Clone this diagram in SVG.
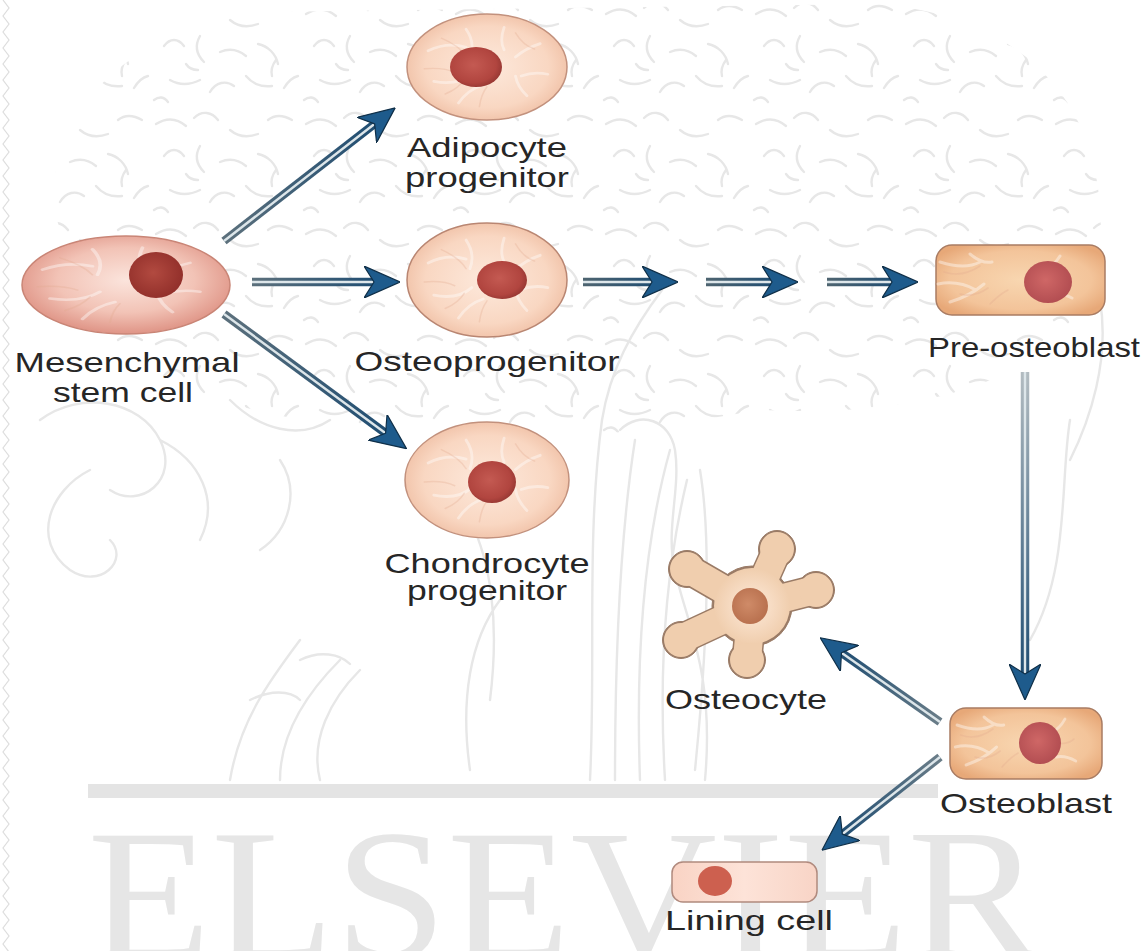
<svg xmlns="http://www.w3.org/2000/svg" xmlns:xlink="http://www.w3.org/1999/xlink" width="1148" height="951" viewBox="0 0 1148 951">
  <style>
    .label { font-family: "Liberation Sans", Arial, sans-serif; font-size: 28px; fill: #262626; text-anchor: middle; }
    .core { stroke: #dde6ea; stroke-width: 2.4; fill: none; marker-end: url(#head); }
    .shaft { stroke-width: 8.5; fill: none; }
    .streak { stroke: #ffffff; stroke-opacity: 0.4; stroke-width: 3; fill: none; stroke-linecap: round; }
    .streak2 { stroke: #e2a98e; stroke-opacity: 0.3; stroke-width: 1.6; fill: none; stroke-linecap: round; }
    .wm { fill: none; stroke: #e7e7e7; stroke-width: 2.4; stroke-linecap: round; }
  </style>
  <defs>
    <!-- arrowhead: barbed, dark blue -->
    <marker id="head" viewBox="0 0 36 32" refX="13" refY="16" markerWidth="36" markerHeight="32" markerUnits="userSpaceOnUse" orient="auto">
      <path d="M0,0 L36,16 L0,32 L10,16 Z" fill="#1e5b8c" stroke="#0f2f48" stroke-width="1.2" stroke-linejoin="round"/>
    </marker>

    <!-- cell fills -->
    <radialGradient id="gStem" cx="50%" cy="45%" r="55%">
      <stop offset="0" stop-color="#fbe4dc"/>
      <stop offset="0.6" stop-color="#f2c3b6"/>
      <stop offset="1" stop-color="#df9486"/>
    </radialGradient>
    <radialGradient id="gRound" cx="50%" cy="50%" r="55%">
      <stop offset="0" stop-color="#fde9dc"/>
      <stop offset="0.7" stop-color="#f9d7c2"/>
      <stop offset="1" stop-color="#efbea3"/>
    </radialGradient>
    <radialGradient id="gRect" cx="50%" cy="50%" r="60%">
      <stop offset="0" stop-color="#f8d6b0"/>
      <stop offset="0.7" stop-color="#f3c49a"/>
      <stop offset="1" stop-color="#e7a878"/>
    </radialGradient>
    <linearGradient id="gLining" x1="0" y1="0" x2="1" y2="0">
      <stop offset="0" stop-color="#f9d3c4"/>
      <stop offset="0.5" stop-color="#fde3d8"/>
      <stop offset="1" stop-color="#f8d4c6"/>
    </linearGradient>
    <radialGradient id="gNuc" cx="45%" cy="45%" r="55%">
      <stop offset="0" stop-color="#c45a52"/>
      <stop offset="0.8" stop-color="#b1453f"/>
      <stop offset="1" stop-color="#9b3a35"/>
    </radialGradient>
    <radialGradient id="gNucStem" cx="45%" cy="45%" r="55%">
      <stop offset="0" stop-color="#b24a40"/>
      <stop offset="1" stop-color="#93302b"/>
    </radialGradient>
    <radialGradient id="gNucRect" cx="45%" cy="45%" r="55%">
      <stop offset="0" stop-color="#cf6766"/>
      <stop offset="1" stop-color="#b34e52"/>
    </radialGradient>
    <radialGradient id="gNucCyte" cx="45%" cy="45%" r="55%">
      <stop offset="0" stop-color="#cf8b68"/>
      <stop offset="1" stop-color="#b9714f"/>
    </radialGradient>
    <radialGradient id="gCyteBody" cx="50%" cy="50%" r="50%">
      <stop offset="0.5" stop-color="#f7dcc4"/>
      <stop offset="1" stop-color="#f0ceae"/>
    </radialGradient>

    <!-- shaft gradients, one per connector -->
    <linearGradient id="s1" gradientUnits="userSpaceOnUse" x1="224" y1="241" x2="377" y2="122"><stop offset="0" stop-color="#5c707c"/><stop offset="1" stop-color="#1f4d72"/></linearGradient>
    <linearGradient id="s2" gradientUnits="userSpaceOnUse" x1="252" y1="282" x2="377" y2="282"><stop offset="0" stop-color="#5c707c"/><stop offset="1" stop-color="#1f4d72"/></linearGradient>
    <linearGradient id="s3" gradientUnits="userSpaceOnUse" x1="224" y1="314" x2="388" y2="435"><stop offset="0" stop-color="#5c707c"/><stop offset="1" stop-color="#1f4d72"/></linearGradient>
    <linearGradient id="s4" gradientUnits="userSpaceOnUse" x1="583" y1="282" x2="655" y2="282"><stop offset="0" stop-color="#4e6470"/><stop offset="1" stop-color="#1f4d72"/></linearGradient>
    <linearGradient id="s5" gradientUnits="userSpaceOnUse" x1="706" y1="282" x2="775" y2="282"><stop offset="0" stop-color="#4e6470"/><stop offset="1" stop-color="#1f4d72"/></linearGradient>
    <linearGradient id="s6" gradientUnits="userSpaceOnUse" x1="827" y1="282" x2="895" y2="282"><stop offset="0" stop-color="#4e6470"/><stop offset="1" stop-color="#1f4d72"/></linearGradient>
    <linearGradient id="s7" gradientUnits="userSpaceOnUse" x1="1025" y1="372" x2="1025" y2="677"><stop offset="0" stop-color="#b3bcc1"/><stop offset="1" stop-color="#1f4d72"/></linearGradient>
    <linearGradient id="s8" gradientUnits="userSpaceOnUse" x1="940" y1="722" x2="839" y2="651"><stop offset="0" stop-color="#6a7d88"/><stop offset="1" stop-color="#1f4d72"/></linearGradient>
    <linearGradient id="s9" gradientUnits="userSpaceOnUse" x1="940" y1="757" x2="840" y2="836"><stop offset="0" stop-color="#6a7d88"/><stop offset="1" stop-color="#1f4d72"/></linearGradient>

    <!-- leafy texture for the background engraving -->
    <pattern id="leafy" width="150" height="110" patternUnits="userSpaceOnUse">
      <path class="wm" d="M6,14 q16,-10 30,2 M44,8 c8,-8 18,-6 24,2 M80,20 q12,10 28,4 M118,10 q10,-8 24,0 M14,46 c6,-8 14,-8 20,0 M50,36 q-8,14 4,26 M70,52 q14,-6 26,4 M108,44 c10,2 18,10 20,20 M20,80 q14,8 30,0 M60,92 c6,-10 16,-12 24,-6 M96,76 q10,12 26,10 M134,88 q6,-10 14,-12 M36,64 q4,6 12,6 M126,60 q-6,8 -4,16 M4,100 q8,-6 14,2"/>
    </pattern>

    <!-- cytoplasm streaks -->
    <g id="streakRound">
      <path class="streak" d="M-62,-18 q20,-10 40,-4 M-56,16 q25,5 40,-8 M-22,-42 q10,15 4,30 M18,-44 q-5,15 0,25 M42,32 q-10,-10 -12,-22 M-30,40 q10,-15 26,-20 M56,-26 q-15,5 -26,15 M64,8 q-15,-3 -28,2"/>
      <path class="streak2" d="M-48,-32 q18,8 26,20 M-66,2 q20,-2 32,4 M-8,44 q2,-14 8,-22 M30,-38 q8,14 20,18 M-44,30 q14,-6 20,-16"/>
    </g>
    <g id="streakRect">
      <path class="streak" d="M-70,-18 q25,8 40,0 M-72,4 q20,-4 38,6 M-60,22 q20,-6 34,-18 M-40,-26 q12,10 22,8 M50,-24 q-6,10 -16,14 M62,18 q-12,-6 -22,-4"/>
      <path class="streak2" d="M-66,-8 q18,6 36,-6 M-50,14 q14,4 28,-6 M-20,24 q10,-10 18,-14 M60,-4 q-8,6 -18,4"/>
    </g>
  </defs>

  <rect width="1148" height="951" fill="#ffffff"/>

  <!-- background engraving: canopy, trunk, vines, ground line and lettering -->
  <g id="engraving">
    <path d="M60,230 C30,140 110,30 260,12 L880,4 C1030,18 1110,110 1100,250 C1090,360 960,420 760,410 L640,430 C470,450 260,430 140,370 C90,340 70,290 60,230 Z" fill="url(#leafy)"/>
    <path class="wm" d="M590,780 c6,-120 -4,-240 12,-360 c8,-50 30,-90 60,-130 M615,780 c0,-130 6,-250 20,-340 M640,780 c-4,-110 2,-230 30,-330 M665,780 c-6,-100 -2,-200 22,-300"/>
    <path class="wm" d="M620,430 c20,-20 50,-10 55,20 c6,40 -10,80 0,120 c10,50 40,100 30,210 M700,470 c10,60 10,150 -5,300 M470,520 c20,40 30,100 20,180 M500,600 c-30,40 -40,100 -30,170"/>
    <path class="wm" d="M40,420 c40,-30 100,-20 120,20 c20,40 -20,70 -50,50 M90,470 c-40,20 -60,70 -20,100 c30,20 60,-10 40,-30 M160,440 c40,20 60,60 40,100 M230,400 c30,30 70,40 100,20 M280,460 c20,30 10,70 -20,90"/>
    <path class="wm" d="M230,780 c10,-60 40,-100 70,-140 M280,780 c0,-50 30,-90 60,-120 M320,780 c-10,-40 10,-80 40,-110 M250,700 c20,-10 40,-10 50,0 M300,660 c20,-10 40,-6 50,4"/>
    <path class="wm" d="M1070,420 c-10,60 0,150 -40,220 M1100,300 c10,60 -10,120 -30,160"/>
    <rect x="88" y="784" width="850" height="14" fill="#e4e4e4"/>
    <text x="565" y="958" font-family="'Liberation Serif', 'Times New Roman', serif" font-size="186" fill="#e6e6e6" text-anchor="middle" textLength="955" lengthAdjust="spacingAndGlyphs">ELSEVIER</text>
    <path d="M3,0 l6,8 l-6,8 l6,8 l-6,8 l6,8 l-6,8 l6,8 l-6,8 l6,8 l-6,8 l6,8 l-6,8 l6,8 l-6,8 l6,8 l-6,8 l6,8 l-6,8 l6,8 l-6,8 l6,8 l-6,8 l6,8 l-6,8 l6,8 l-6,8 l6,8 l-6,8 l6,8 l-6,8 l6,8 l-6,8 l6,8 l-6,8 l6,8 l-6,8 l6,8 l-6,8 l6,8 l-6,8 l6,8 l-6,8 l6,8 l-6,8 l6,8 l-6,8 l6,8 l-6,8 l6,8 l-6,8 l6,8 l-6,8 l6,8 l-6,8 l6,8 l-6,8 l6,8 l-6,8 l6,8 l-6,8 l6,8 l-6,8 l6,8 l-6,8 l6,8 l-6,8 l6,8 l-6,8 l6,8 l-6,8 l6,8 l-6,8 l6,8 l-6,8 l6,8 l-6,8 l6,8 l-6,8 l6,8 l-6,8 l6,8 l-6,8 l6,8 l-6,8 l6,8 l-6,8 l6,8 l-6,8 l6,8 l-6,8 l6,8 l-6,8 l6,8 l-6,8 l6,8 l-6,8 l6,8 l-6,8 l6,8 l-6,8 l6,8 l-6,8 l6,8 l-6,8 l6,8 l-6,8 l6,8 l-6,8 l6,8 l-6,8 l6,8 l-6,8 l6,8 l-6,8 l6,8 l-6,8 l6,8 l-6,8 l6,8" fill="none" stroke="#dddddd" stroke-width="1.2"/>
  </g>

  <!-- connectors -->
  <g id="connectors">
    <g id="msc-adipo"><path class="shaft" stroke="url(#s1)" d="M224,241 L377,122"/><path class="core" d="M224,241 L377,122"/></g>
    <g id="msc-osteoprog"><path class="shaft" stroke="url(#s2)" d="M252,282 L377,282"/><path class="core" d="M252,282 L377,282"/></g>
    <g id="msc-chondro"><path class="shaft" stroke="url(#s3)" d="M224,314 L388,435"/><path class="core" d="M224,314 L388,435"/></g>
    <g id="step-1"><path class="shaft" stroke="url(#s4)" d="M583,282 L655,282"/><path class="core" d="M583,282 L655,282"/></g>
    <g id="step-2"><path class="shaft" stroke="url(#s5)" d="M706,282 L775,282"/><path class="core" d="M706,282 L775,282"/></g>
    <g id="step-3"><path class="shaft" stroke="url(#s6)" d="M827,282 L895,282"/><path class="core" d="M827,282 L895,282"/></g>
    <g id="preob-ob"><path class="shaft" stroke="url(#s7)" d="M1025,372 L1025,677"/><path class="core" d="M1025,372 L1025,677"/></g>
    <g id="ob-cyte"><path class="shaft" stroke="url(#s8)" d="M940,722 L839,651"/><path class="core" d="M940,722 L839,651"/></g>
    <g id="ob-lining"><path class="shaft" stroke="url(#s9)" d="M940,757 L840,836"/><path class="core" d="M940,757 L840,836"/></g>
  </g>

  <!-- Mesenchymal stem cell -->
  <g id="msc">
    <ellipse cx="126" cy="285" rx="104" ry="49" fill="url(#gStem)" stroke="#c98576" stroke-width="1.5"/>
    <use href="#streakRound" transform="translate(120,285) scale(1.25,0.85)"/>
    <ellipse cx="156" cy="275" rx="27" ry="23" fill="url(#gNucStem)"/>
    <text class="label" x="127" y="372" textLength="225" lengthAdjust="spacingAndGlyphs">Mesenchymal</text>
    <text class="label" x="123" y="402" textLength="140" lengthAdjust="spacingAndGlyphs">stem cell</text>
  </g>

  <!-- Adipocyte progenitor -->
  <g id="adipo">
    <ellipse cx="487" cy="67" rx="80" ry="53" fill="url(#gRound)" stroke="#c2917d" stroke-width="1.5"/>
    <use href="#streakRound" transform="translate(487,67) scale(0.95,0.9)"/>
    <ellipse cx="476" cy="67" rx="26" ry="20" fill="url(#gNuc)"/>
    <text class="label" x="487" y="157" textLength="160" lengthAdjust="spacingAndGlyphs">Adipocyte</text>
    <text class="label" x="487" y="187" textLength="164" lengthAdjust="spacingAndGlyphs">progenitor</text>
  </g>

  <!-- Osteoprogenitor -->
  <g id="osteoprog">
    <ellipse cx="487" cy="280" rx="80" ry="57" fill="url(#gRound)" stroke="#b98672" stroke-width="1.5"/>
    <use href="#streakRound" transform="translate(487,280) scale(0.95,0.95)"/>
    <ellipse cx="502" cy="280" rx="25" ry="19" fill="url(#gNuc)"/>
    <text class="label" x="487" y="371" textLength="265" lengthAdjust="spacingAndGlyphs">Osteoprogenitor</text>
  </g>

  <!-- Chondrocyte progenitor -->
  <g id="chondro">
    <ellipse cx="487" cy="480" rx="82" ry="58" fill="url(#gRound)" stroke="#c2917d" stroke-width="1.5"/>
    <use href="#streakRound" transform="translate(487,480) scale(0.95,0.95)"/>
    <ellipse cx="492" cy="482" rx="24" ry="21" fill="url(#gNuc)"/>
    <text class="label" x="487" y="573" textLength="205" lengthAdjust="spacingAndGlyphs">Chondrocyte</text>
    <text class="label" x="487" y="600" textLength="160" lengthAdjust="spacingAndGlyphs">progenitor</text>
  </g>

  <!-- Pre-osteoblast -->
  <g id="preosteoblast">
    <rect x="936" y="245" width="169" height="70" rx="16" fill="url(#gRect)" stroke="#a97c63" stroke-width="1.5"/>
    <use href="#streakRect" transform="translate(1010,280)"/>
    <ellipse cx="1048" cy="282" rx="24" ry="21" fill="url(#gNucRect)"/>
    <text class="label" x="1034" y="357" textLength="212" lengthAdjust="spacingAndGlyphs">Pre-osteoblast</text>
  </g>

  <!-- Osteoblast -->
  <g id="osteoblast">
    <rect x="950" y="708" width="152" height="71" rx="16" fill="url(#gRect)" stroke="#a97c63" stroke-width="1.5"/>
    <use href="#streakRect" transform="translate(1020,743) scale(0.9,1)"/>
    <ellipse cx="1040" cy="743" rx="21" ry="21" fill="url(#gNucRect)"/>
    <text class="label" x="1026" y="813" textLength="172" lengthAdjust="spacingAndGlyphs">Osteoblast</text>
  </g>

  <!-- Osteocyte: five club-shaped processes round a central body -->
  <g id="osteocyte">
    <g stroke="#9a7b66" stroke-linecap="round" fill="#9a7b66">
      <path d="M752,606 L777,550 M752,606 L815,590 M752,606 L747,659 M752,606 L681,639 M752,606 L688,569" stroke-width="31"/>
      <circle cx="752" cy="606" r="40"/>
      <circle cx="777" cy="549" r="18.5"/><circle cx="816" cy="590" r="18.5"/><circle cx="747" cy="660" r="18.5"/><circle cx="681" cy="640" r="18.5"/><circle cx="687" cy="569" r="18.5"/>
    </g>
    <g stroke="#f0ceae" stroke-linecap="round" fill="#f0ceae">
      <path d="M752,606 L777,550 M752,606 L815,590 M752,606 L747,659 M752,606 L681,639 M752,606 L688,569" stroke-width="28"/>
      <circle cx="752" cy="606" r="38" stroke="none" fill="url(#gCyteBody)"/>
      <circle cx="777" cy="549" r="17" stroke="none"/><circle cx="816" cy="590" r="17" stroke="none"/><circle cx="747" cy="660" r="17" stroke="none"/><circle cx="681" cy="640" r="17" stroke="none"/><circle cx="687" cy="569" r="17" stroke="none"/>
    </g>
    <circle cx="750" cy="606" r="18" fill="url(#gNucCyte)"/>
    <text class="label" x="746" y="709" textLength="162" lengthAdjust="spacingAndGlyphs">Osteocyte</text>
  </g>

  <!-- Lining cell -->
  <g id="lining">
    <rect x="672" y="862" width="145" height="40" rx="11" fill="url(#gLining)" stroke="#b08a7e" stroke-width="1.5"/>
    <ellipse cx="715" cy="881" rx="17" ry="15" fill="#cd604f"/>
    <text class="label" x="749" y="930" textLength="168" lengthAdjust="spacingAndGlyphs">Lining cell</text>
  </g>
</svg>
